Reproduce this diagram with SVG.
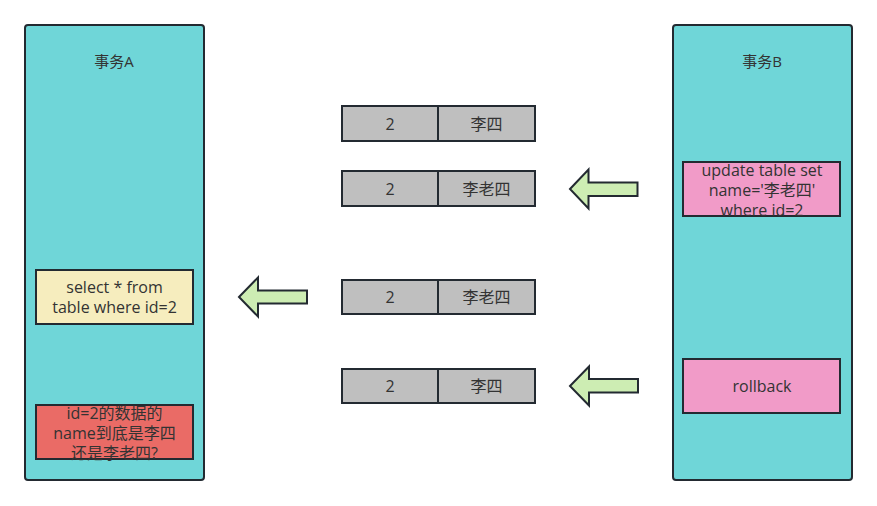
<svg xmlns="http://www.w3.org/2000/svg" width="877" height="506" viewBox="0 0 877 506">
<style>
.t{font-family:"Open Sans","Noto Sans CJK SC",sans-serif;fill:#333;text-anchor:middle;dominant-baseline:central}
.s14{font-size:15px}
.s16{font-size:16px}
.col{fill:#6fd6d8;stroke:#232a31;stroke-width:2}
.box{stroke:#232a31;stroke-width:2}
.cell{fill:#bfbfbf;stroke:#232a31;stroke-width:2}
.arr{fill:#cdedb3;stroke:#232a31;stroke-width:2;stroke-linejoin:miter}
</style>
<rect width="877" height="506" fill="#fff"/>
<g id="txA">
<rect class="col" x="25" y="25" width="179" height="455" rx="3"/>
<text class="t s14" x="114" y="61">事务A</text>
</g>
<g id="txB">
<rect class="col" x="673" y="25" width="179" height="455" rx="3"/>
<text class="t s14" x="762" y="61">事务B</text>
</g>
<g id="select">
<rect class="box" x="36" y="270" width="157" height="54" fill="#f6edbe"/>
<text class="t s16" x="114.5" y="287">select * from</text>
<text class="t s16" x="114.5" y="307">table where id=2</text>
</g>
<g id="question">
<rect class="box" x="36" y="405" width="157" height="54" fill="#ea6b66"/>
<text class="t s16" x="114.5" y="412.5">id=2的数据的</text>
<text class="t s16" x="114.5" y="432.5">name到底是李四</text>
<text class="t s16" x="114.5" y="452.5">还是李老四?</text>
</g>
<g id="update">
<rect class="box" x="683" y="162" width="157" height="54" fill="#f19bc8"/>
<text class="t s16" x="762" y="170">update table set</text>
<text class="t s16" x="762" y="190">name='李老四'</text>
<text class="t s16" x="762" y="210">where id=2</text>
</g>
<g id="rollback">
<rect class="box" x="683" y="359" width="157" height="54" fill="#f19bc8"/>
<text class="t s16" x="762" y="386">rollback</text>
</g>
<g id="row1">
<rect class="cell" x="342" y="106" width="96" height="35"/>
<rect class="cell" x="438" y="106" width="97" height="35"/>
<text class="t s16" x="390" y="123.5">2</text>
<text class="t s16" x="486.5" y="123.5">李四</text>
</g>
<g id="row2">
<rect class="cell" x="342" y="171" width="96" height="35"/>
<rect class="cell" x="438" y="171" width="97" height="35"/>
<text class="t s16" x="390" y="188.5">2</text>
<text class="t s16" x="486.5" y="188.5">李老四</text>
</g>
<g id="row3">
<rect class="cell" x="342" y="280" width="96" height="34"/>
<rect class="cell" x="438" y="280" width="97" height="34"/>
<text class="t s16" x="390" y="297">2</text>
<text class="t s16" x="486.5" y="297">李老四</text>
</g>
<g id="row4">
<rect class="cell" x="342" y="369" width="96" height="34"/>
<rect class="cell" x="438" y="369" width="97" height="34"/>
<text class="t s16" x="390" y="386">2</text>
<text class="t s16" x="486.5" y="386">李四</text>
</g>
<g id="connectors">
<polygon class="arr" points="570,189 588.5,169.5 588.5,182.5 637.5,182.5 637.5,196 588.5,196 588.5,208.5"/>
<polygon class="arr" points="239,297 258,277.5 258,290.5 307,290.5 307,303.5 258,303.5 258,316.5"/>
<polygon class="arr" points="570,386 589,366.5 589,379 638,379 638,392.5 589,392.5 589,405.5"/>
</g>
</svg>
